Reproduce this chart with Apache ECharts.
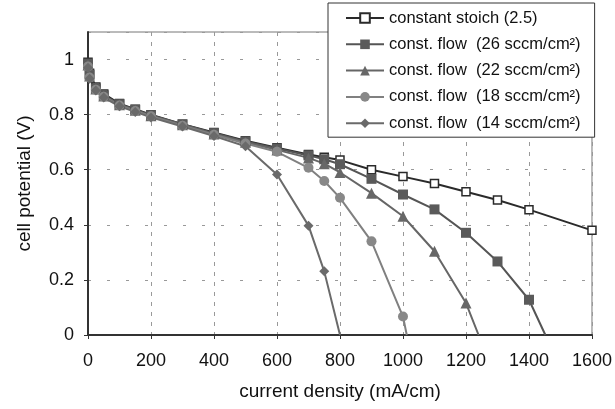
<!DOCTYPE html>
<html>
<head>
<meta charset="utf-8">
<script src="https://cdn.jsdelivr.net/npm/echarts@6/dist/echarts.min.js"></script>
<style>
  html, body { margin: 0; padding: 0; background: #fff; }
  #chart { width: 615px; height: 409px; }
</style>
</head>
<body>
<div id="chart"></div>
<script>
const currentStoich = [0, 5, 25, 50, 100, 150, 200, 300, 400, 500, 600, 700, 750, 800, 900, 1000, 1100, 1200, 1300, 1400, 1600]
const potentialStoich = [0.99, 0.95, 0.9, 0.875, 0.84, 0.82, 0.8, 0.765, 0.735, 0.705, 0.68, 0.655, 0.645, 0.635, 0.6, 0.575, 0.55, 0.52, 0.49, 0.455, 0.38]

const current26 = [0, 5, 25, 50, 100, 150, 200, 300, 400, 500, 600, 700, 750, 800, 900, 1000, 1100, 1200, 1300, 1400, 1452]
const potential26 = [0.985, 0.945, 0.895, 0.87, 0.838, 0.818, 0.798, 0.765, 0.733, 0.703, 0.677, 0.652, 0.638, 0.62, 0.567, 0.51, 0.456, 0.371, 0.267, 0.128, 0]

const current22 = [0, 5, 25, 50, 100, 150, 200, 300, 400, 500, 600, 700, 750, 800, 900, 1000, 1100, 1200, 1240]
const potential22 = [0.98, 0.94, 0.893, 0.868, 0.836, 0.816, 0.796, 0.763, 0.73, 0.7, 0.672, 0.643, 0.622, 0.59, 0.515, 0.431, 0.304, 0.116, 0]

const current18 = [0, 5, 25, 50, 100, 150, 200, 300, 400, 500, 600, 700, 750, 800, 900, 1000, 1012]
const potential18 = [0.975, 0.935, 0.89, 0.865, 0.833, 0.813, 0.794, 0.76, 0.727, 0.695, 0.665, 0.607, 0.559, 0.498, 0.34, 0.067, 0]

const current14 = [0, 5, 25, 50, 100, 150, 200, 300, 400, 500, 600, 700, 750, 800]
const potential14 = [0.97, 0.93, 0.888, 0.862, 0.83, 0.81, 0.79, 0.757, 0.722, 0.685, 0.583, 0.397, 0.231, 0]

const seriesNames = [
  'constant stoich (2.5)',
  'const. flow  (26 sccm/cm²)',
  'const. flow  (22 sccm/cm²)',
  'const. flow  (18 sccm/cm²)',
  'const. flow  (14 sccm/cm²)',
]

// last point of the flow curves is where the line hits the axis, drawn without a marker
function toPoints(xs, ys, openEnd) {
  return xs.map((x, i) => {
    if (openEnd && i === xs.length - 1) return { value: [x, ys[i]], symbol: 'none' }
    return [x, ys[i]]
  })
}

function makeSeries(name, data, symbol, size, color, fill) {
  return {
    name: name,
    type: 'line',
    data: data,
    symbol: symbol,
    symbolSize: size,
    showAllSymbol: true,
    lineStyle: { color: color, width: 2 },
    itemStyle: { color: fill, borderColor: color, borderWidth: fill === '#fff' ? 1.5 : 0 },
    emphasis: { disabled: true },
    animation: false,
  }
}

const chart = echarts.init(document.getElementById('chart'))

const font = 'Liberation Sans, Arial, sans-serif'

const option = {
  backgroundColor: '#fff',
  textStyle: { fontFamily: font },
  grid: {
    left: 88,
    right: 23,
    top: 32,
    bottom: 74,
    show: true,
    borderColor: '#777',
    borderWidth: 1,
  },
  legend: {
    orient: 'vertical',
    left: 328,
    top: 3,
    padding: [5, 14, 4, 17],
    itemWidth: 38,
    itemHeight: 12,
    itemGap: 6.3,
    backgroundColor: '#fff',
    borderColor: '#333',
    borderWidth: 1,
    textStyle: { fontSize: 16.5, lineHeight: 20, color: '#111', fontFamily: font },
    data: seriesNames,
  },
  xAxis: {
    type: 'value',
    min: 0,
    max: 1600,
    interval: 200,
    name: 'current density (mA/cm)',
    nameLocation: 'middle',
    nameGap: 47,
    nameTextStyle: { fontSize: 19, color: '#111' },
    axisLine: { show: true, onZero: false, lineStyle: { color: '#333', width: 2 } },
    axisTick: { show: true, length: 4, lineStyle: { color: '#333' } },
    axisLabel: { fontSize: 18, color: '#111', margin: 17, formatter: (v) => String(v) },
    splitLine: { show: true, lineStyle: { color: '#999', type: [4, 6], width: 1 } },
  },
  yAxis: {
    type: 'value',
    min: 0,
    max: 1.1,
    interval: 0.2,
    name: 'cell potential (V)',
    nameLocation: 'middle',
    nameGap: 54,
    nameTextStyle: { fontSize: 19, color: '#111' },
    axisLine: { show: true, onZero: false, lineStyle: { color: '#333', width: 2 } },
    axisTick: { show: true, length: 4, lineStyle: { color: '#333' } },
    axisLabel: {
      fontSize: 18,
      color: '#111',
      margin: 14,
      showMaxLabel: false,
      formatter: (v) => String(Math.round(v * 10) / 10),
    },
    splitLine: { show: true, lineStyle: { color: '#999', type: [3, 16], width: 1 } },
  },
  series: [
    makeSeries(seriesNames[0], toPoints(currentStoich, potentialStoich, false), 'rect', 8, '#2a2a2a', '#fff'),
    makeSeries(seriesNames[1], toPoints(current26, potential26, true), 'rect', 10, '#555', '#5a5a5a'),
    makeSeries(seriesNames[2], toPoints(current22, potential22, true), 'triangle', 11, '#666', '#676767'),
    makeSeries(seriesNames[3], toPoints(current18, potential18, true), 'circle', 10, '#808080', '#888'),
    makeSeries(seriesNames[4], toPoints(current14, potential14, true), 'diamond', 10, '#6a6a6a', '#6a6a6a'),
  ],
}

chart.setOption(option)
</script>
</body>
</html>
